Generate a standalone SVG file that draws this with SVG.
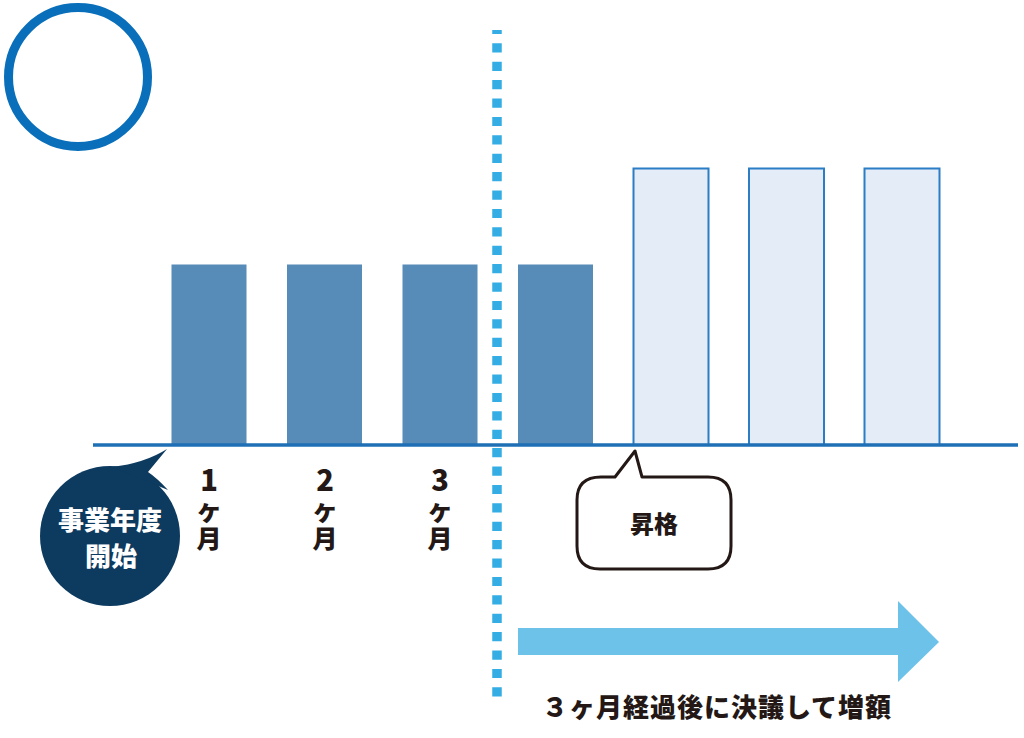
<svg xmlns="http://www.w3.org/2000/svg" width="1024" height="738" viewBox="0 0 1024 738">
<style>
.bold{font-family:"Noto Sans CJK JP","Noto Sans",sans-serif;font-weight:900;}
.dark{fill:#578bb8;}
.light{fill:#e3ecf7;stroke:#2b7dc5;stroke-width:2;}
.lbl{fill:#231815;text-anchor:middle;font-size:25px;}
.num{font-size:29px;}
.ke{font-size:26px;}
</style>
<rect width="1024" height="738" fill="#ffffff"/>
<g id="ring"><circle cx="78" cy="77" r="69.5" fill="none" stroke="#0a6fba" stroke-width="9"/></g>
<g id="bars">
<rect class="dark" x="171.5" y="264.5" width="75" height="180.5"/>
<rect class="dark" x="287" y="264.5" width="75" height="180.5"/>
<rect class="dark" x="402.5" y="264.5" width="75" height="180.5"/>
<rect class="dark" x="518" y="264.5" width="75" height="180.5"/>
<rect class="light" x="633.5" y="168.5" width="75" height="276.5"/>
<rect class="light" x="749" y="168.5" width="75" height="276.5"/>
<rect class="light" x="864.5" y="168.5" width="75" height="276.5"/>
</g>
<g id="connectors">
<line x1="93" y1="445" x2="1018" y2="445" stroke="#1e6fb5" stroke-width="3.5"/>
<line x1="497" y1="30" x2="497" y2="704" stroke="#34ade4" stroke-width="9.5" stroke-dasharray="9.2 9.2" stroke-dashoffset="5.1"/>
<path d="M518,628 H898 V601 L939,642 L898,682 V655 H518 Z" fill="#6cc2e9"/>
</g>
<g id="start-bubble">
<circle cx="110" cy="536" r="70" fill="#0d3a5f"/>
<path d="M112,467 Q145,463 167,449 L148,472 Q157,478 168,490 Z" fill="#0d3a5f"/>
<text class="bold" x="110" y="530" font-size="26" fill="#ffffff" text-anchor="middle">事業年度</text>
<text class="bold" x="111" y="566" font-size="26" fill="#ffffff" text-anchor="middle">開始</text>
</g>
<g id="month1">
<text class="bold lbl"><tspan class="num" x="209" y="491">1</tspan><tspan class="ke" x="209" y="520">ヶ</tspan><tspan x="209" y="548">月</tspan></text>
</g>
<g id="month2">
<text class="bold lbl"><tspan class="num" x="325" y="491">2</tspan><tspan class="ke" x="325" y="520">ヶ</tspan><tspan x="325" y="548">月</tspan></text>
</g>
<g id="month3">
<text class="bold lbl"><tspan class="num" x="440" y="491">3</tspan><tspan class="ke" x="440" y="520">ヶ</tspan><tspan x="440" y="548">月</tspan></text>
</g>
<g id="promotion-bubble">
<path d="M601,477 L615,477 L635,451 L642,477 L708,477 Q731,477 731,500 L731,546 Q731,569 708,569 L600,569 Q577,569 577,546 L577,500 Q577,477 601,477 Z" fill="#ffffff" stroke="#231815" stroke-width="3" stroke-linejoin="round"/>
<text class="bold" x="654" y="533" font-size="24" fill="#231815" text-anchor="middle">昇格</text>
</g>
<g id="caption">
<text class="bold" x="717" y="717" font-size="26" fill="#231815" text-anchor="middle" letter-spacing="1">３ヶ月経過後に決議して増額</text>
</g>
</svg>
